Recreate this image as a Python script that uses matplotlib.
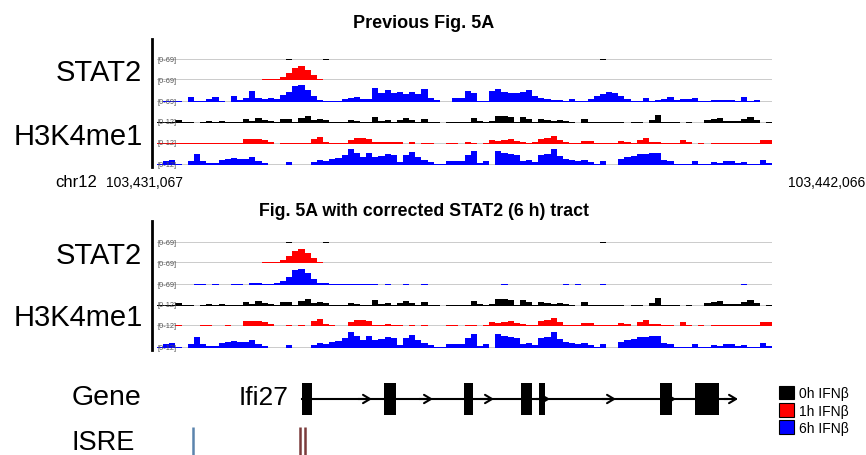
import numpy as np
import matplotlib
matplotlib.use('Agg')
import matplotlib.pyplot as plt
import matplotlib as mpl
from matplotlib.lines import Line2D
from matplotlib.patches import Rectangle, Patch

mpl.rcParams['font.family'] = ['Liberation Sans', 'DejaVu Sans']

# region shown: chr12:103,431,067-103,442,066, signal binned at 110 bp
region_start = 103431067
region_end = 103442066
bin_size = 110

stat2_0h = [0, 0, 0, 0, 0, 0, 0, 0, 0, 0,
            0, 0, 0, 0, 0, 0, 0, 0, 0, 0,
            0, 1.5, 0, 0, 0, 0, 0, 1.5, 0, 0,
            0, 0, 0, 0, 0, 0, 0, 0, 0, 0,
            0, 0, 0, 0, 0, 0, 0, 0, 0, 0,
            0, 0, 0, 0, 0, 0, 0, 0, 0, 0,
            0, 0, 0, 0, 0, 0, 0, 0, 0, 0,
            0, 0, 1.5, 0, 0, 0, 0, 0, 0, 0,
            0, 0, 0, 0, 0, 0, 0, 0, 0, 0,
            0, 0, 0, 0, 0, 0, 0, 0, 0, 0]

stat2_1h = [0, 0, 0, 0, 0, 0, 0, 0, 0, 0,
            0, 0, 0, 0, 0, 2.4, 2.4, 3.5, 3.5, 5,
            12, 24, 42, 48, 35, 17, 5, 2.4, 0, 2.4,
            0, 2.4, 0, 0, 0, 0, 0, 0, 0, 0,
            0, 0, 0, 0, 0, 0, 0, 0, 0, 0,
            0, 0, 0, 0, 0, 0, 0, 0, 0, 0,
            0, 0, 0, 0, 0, 0, 0, 0, 0, 0,
            0, 0, 0, 0, 0, 0, 0, 0, 0, 0,
            0, 0, 0, 0, 0, 0, 0, 0, 0, 0,
            0, 0, 0, 0, 0, 0, 0, 0, 0, 0]

# 6 h STAT2 as in the previous figure
stat2_6h_prev = [0, 2.4, 2.4, 2.4, 0, 17, 3.5, 3.5, 10, 17,
                 3.5, 0, 21, 7, 14, 38, 14, 10, 14, 10,
                 24, 35, 55, 59, 41, 21, 7, 3.5, 2.4, 2.4,
                 10, 14, 17, 10, 10, 48, 31, 41, 31, 35,
                 28, 35, 28, 44, 14, 7, 0, 0, 14, 14,
                 38, 31, 3.5, 1.7, 38, 45, 35, 31, 31, 35,
                 41, 21, 14, 10, 7, 7, 3.5, 10, 3.5, 1.7,
                 10, 21, 28, 35, 31, 21, 10, 2.4, 2.4, 14,
                 2.4, 7, 10, 17, 7, 10, 10, 14, 3.5, 1.7,
                 5, 7, 7, 5, 3.5, 17, 3.5, 7, 0, 0]

# corrected 6 h STAT2
stat2_6h_fixed = [0, 0, 0, 0, 0, 0, 1.7, 1.7, 0, 1.7,
                  0, 0, 1.7, 1.7, 0, 5, 5, 3.5, 3.5, 7,
                  14, 28, 52, 55, 41, 21, 5, 5, 3.5, 1.7,
                  1.7, 1.7, 1.7, 1.7, 1.7, 1.7, 0, 1.7, 0, 0,
                  1.7, 0, 0, 1.7, 0, 0, 0, 0, 0, 0,
                  0, 0, 0, 0, 0, 0, 1.7, 0, 0, 0,
                  0, 0, 0, 0, 0, 0, 1.7, 0, 1.7, 0,
                  0, 0, 1.7, 0, 0, 0, 0, 0, 0, 0,
                  0, 0, 0, 0, 0, 0, 0, 0, 0, 0,
                  0, 0, 0, 0, 0, 1.7, 0, 0, 0, 0]

h3k4_0h = [0.3, 0.3, 0.3, 1.8, 0.3, 0.3, 0, 0.6, 0.9, 0.3,
           0.9, 0.6, 0.6, 0.6, 2.4, 1.2, 3.0, 1.8, 1.2, 0.3,
           2.1, 2.4, 0.3, 3.0, 4.2, 1.8, 2.4, 1.8, 0.6, 0.3,
           0.6, 1.8, 1.2, 0.6, 0.6, 3.6, 0.9, 1.8, 0.6, 1.8,
           3.0, 1.5, 0.6, 2.4, 0.6, 0.3, 0, 0.6, 0.3, 0.6,
           0.6, 3.0, 1.2, 0.3, 1.2, 4.2, 4.2, 3.6, 0.6, 3.6,
           2.4, 0.6, 2.4, 1.8, 1.2, 1.5, 1.2, 0.3, 0, 2.4,
           0.6, 0.3, 0.3, 0.3, 0.3, 0.3, 0, 0.6, 0.6, 0,
           1.8, 4.8, 0.6, 0.6, 0.3, 0, 0.6, 0, 0, 1.8,
           2.4, 3.0, 1.2, 1.2, 1.2, 2.4, 3.6, 1.8, 0, 0.3]

h3k4_1h = [0.3, 0.3, 0.3, 0.6, 0.3, 0.3, 0.3, 0.6, 0.6, 0.3,
           0.3, 0.6, 0.3, 0.3, 3.0, 3.0, 3.0, 2.4, 1.2, 0,
           0.3, 0.6, 0.3, 0.6, 0.3, 3.0, 4.2, 1.2, 0.6, 0.3,
           0.3, 2.4, 3.6, 3.6, 3.0, 0.9, 0.9, 1.2, 0.9, 0.9,
           0, 0.9, 0, 0.6, 0.3, 0, 0, 0.6, 0.6, 0,
           0.9, 0.6, 0, 0.6, 2.4, 1.8, 2.4, 3.0, 1.8, 1.2,
           0.6, 0.9, 3.0, 3.6, 4.8, 2.4, 0.9, 0.6, 0.6, 1.8,
           1.8, 0.6, 0.6, 0.6, 0.6, 1.8, 1.2, 0.3, 2.4, 3.6,
           1.2, 1.2, 0.6, 0.6, 0.3, 2.4, 0.9, 0, 0.6, 0,
           0.6, 0.6, 0.6, 0.6, 0.6, 0.6, 0.6, 0.6, 2.4, 2.4]

h3k4_6h = [0.6, 2.4, 3.0, 0.9, 0.3, 2.4, 6.6, 2.4, 1.2, 1.2,
           3.0, 3.6, 4.2, 3.6, 3.6, 4.8, 2.4, 1.2, 0.3, 0.3,
           0.3, 1.8, 0.3, 0.3, 0.3, 1.8, 3.0, 2.4, 3.6, 4.2,
           6.0, 9.6, 7.2, 4.8, 7.2, 4.8, 5.4, 6.6, 6.0, 1.8,
           6.0, 7.8, 4.8, 3.0, 1.8, 0.6, 0.6, 2.4, 2.4, 2.4,
           6.0, 8.4, 1.2, 2.4, 0.3, 8.4, 7.2, 6.6, 6.0, 2.4,
           3.0, 1.8, 6.0, 6.6, 9.6, 5.4, 3.6, 3.0, 2.4, 3.0,
           1.8, 0.6, 2.4, 0.3, 0.3, 3.6, 4.8, 5.4, 6.6, 6.6,
           7.2, 7.2, 3.0, 2.4, 0.6, 0.6, 0.6, 2.4, 0.6, 0.6,
           1.8, 1.2, 2.4, 2.4, 1.2, 1.8, 0.6, 0.6, 3.0, 1.2]

stat2_range = 69
h3k4_range = 12

# Ifi27 gene model, bp from region start
exons = [(2586, 2778), (4056, 4280), (5487, 5648), (6510, 6707),
         (6832, 6932), (8996, 9211), (9622, 10046)]
gene_end = 10391
intron_arrows = [3845, 4936, 6027, 7029, 8209, 9282]
isre_sites = [644]
isre_sites_2 = [2558, 2647]

legend_labels = ['0h IFN\u03b2', '1h IFN\u03b2', '6h IFN\u03b2']
colors = ['black', '#ff0000', '#0000ff']

W, H = 866, 456
fig = plt.figure(figsize=(W / 100, H / 100), dpi=100)


def px_axes(x0, y_top, w, h):
    ax = fig.add_axes([x0 / W, 1 - (y_top + h) / H, w / W, h / H])
    ax.set_axis_off()
    return ax


edges = np.arange(0, len(h3k4_0h) + 1) * bin_size
region_len = region_end - region_start


def draw_panel(baselines, tracks):
    for base, (vals, color, rng) in zip(baselines, tracks):
        ax = px_axes(157, base - 20, 615, 20)
        ax.set_xlim(0, region_len)
        ax.set_ylim(0, rng)
        ax.axhline(0, color='#bdbdbd', lw=1.1, zorder=1)
        ax.stairs(vals, edges, fill=True, color=color, lw=0, zorder=2)
        ax.text(0, 0.5, '[0-%d]' % rng, transform=ax.get_yaxis_transform(),
                ha='left', va='center', fontsize=5.3, color='#555555')


panel1 = [(stat2_0h, colors[0], stat2_range), (stat2_1h, colors[1], stat2_range),
          (stat2_6h_prev, colors[2], stat2_range), (h3k4_0h, colors[0], h3k4_range),
          (h3k4_1h, colors[1], h3k4_range), (h3k4_6h, colors[2], h3k4_range)]
panel2 = [(stat2_0h, colors[0], stat2_range), (stat2_1h, colors[1], stat2_range),
          (stat2_6h_fixed, colors[2], stat2_range), (h3k4_0h, colors[0], h3k4_range),
          (h3k4_1h, colors[1], h3k4_range), (h3k4_6h, colors[2], h3k4_range)]

draw_panel([60.7, 81.3, 102.7, 123.7, 144.7, 166], panel1)
draw_panel([243.7, 264.2, 285.7, 306.7, 327, 349], panel2)

# vertical bars left of the track stacks
for y0, y1 in [(40, 168), (222, 351)]:
    fig.add_artist(Line2D([152 / W, 152 / W], [1 - y0 / H, 1 - y1 / H],
                          color='black', lw=2, transform=fig.transFigure))

def ftext(x, y, s, **kw):
    fig.text(x / W, 1 - y / H, s, **kw)

ftext(424, 28, 'Previous Fig. 5A', ha='center', va='baseline', fontsize=13, fontweight='bold')
ftext(424, 216, 'Fig. 5A with corrected STAT2 (6 h) tract', ha='center', va='baseline',
      fontsize=12.8, fontweight='bold')

for y_stat, y_h3 in [(73, 137), (256, 318)]:
    ftext(142, y_stat, 'STAT2', ha='right', va='center', fontsize=21)
    ftext(143, y_h3, 'H3K4me1', ha='right', va='center', fontsize=21)

ftext(55, 187, 'chr12', ha='left', va='baseline', fontsize=12)
ftext(106, 187, '{:,}'.format(region_start), ha='left', va='baseline', fontsize=10)
ftext(865, 187, '{:,}'.format(region_end), ha='right', va='baseline', fontsize=10)

ftext(72, 405, 'Gene', ha='left', va='baseline', fontsize=20.5)
ftext(72, 450, 'ISRE', ha='left', va='baseline', fontsize=19.5)
ftext(289, 405, 'Ifi27', ha='right', va='baseline', fontsize=19)

# gene model
gax = px_axes(157, 380, 615, 40)
gax.set_xlim(0, region_len)
gax.set_ylim(-1, 1)
gax.plot([exons[0][0], gene_end - 200], [0, 0], color='black', lw=1.5)
for s, e in exons:
    gax.add_patch(Rectangle((s, -0.8), e - s, 1.6, color='black', lw=0))
for a in intron_arrows + [gene_end]:
    gax.annotate('', xy=(a, 0), xytext=(a - 250, 0),
                 arrowprops=dict(arrowstyle='->,head_length=0.5,head_width=0.3',
                                 lw=1.5, color='black', shrinkA=0, shrinkB=0))

# ISRE sites
iax = px_axes(157, 428, 615, 28)
iax.set_xlim(0, region_len)
iax.set_ylim(0, 1)
iax.vlines(isre_sites, 0, 1, color='#5b84ad', lw=1.8)
iax.vlines(isre_sites_2, 0, 1, color='#7b3b3b', lw=1.8)

handles = [Patch(facecolor=c, edgecolor='black', lw=0.8, label=l)
           for c, l in zip(colors, legend_labels)]
fig.legend(handles=handles, loc='upper left', bbox_to_anchor=(779 / W, 1 - 387 / H),
           frameon=False, fontsize=10, handlelength=1.1, handleheight=1.1,
           handletextpad=0.35, labelspacing=0.2, borderpad=0, borderaxespad=0)

fig.savefig('out.png', dpi=100)
